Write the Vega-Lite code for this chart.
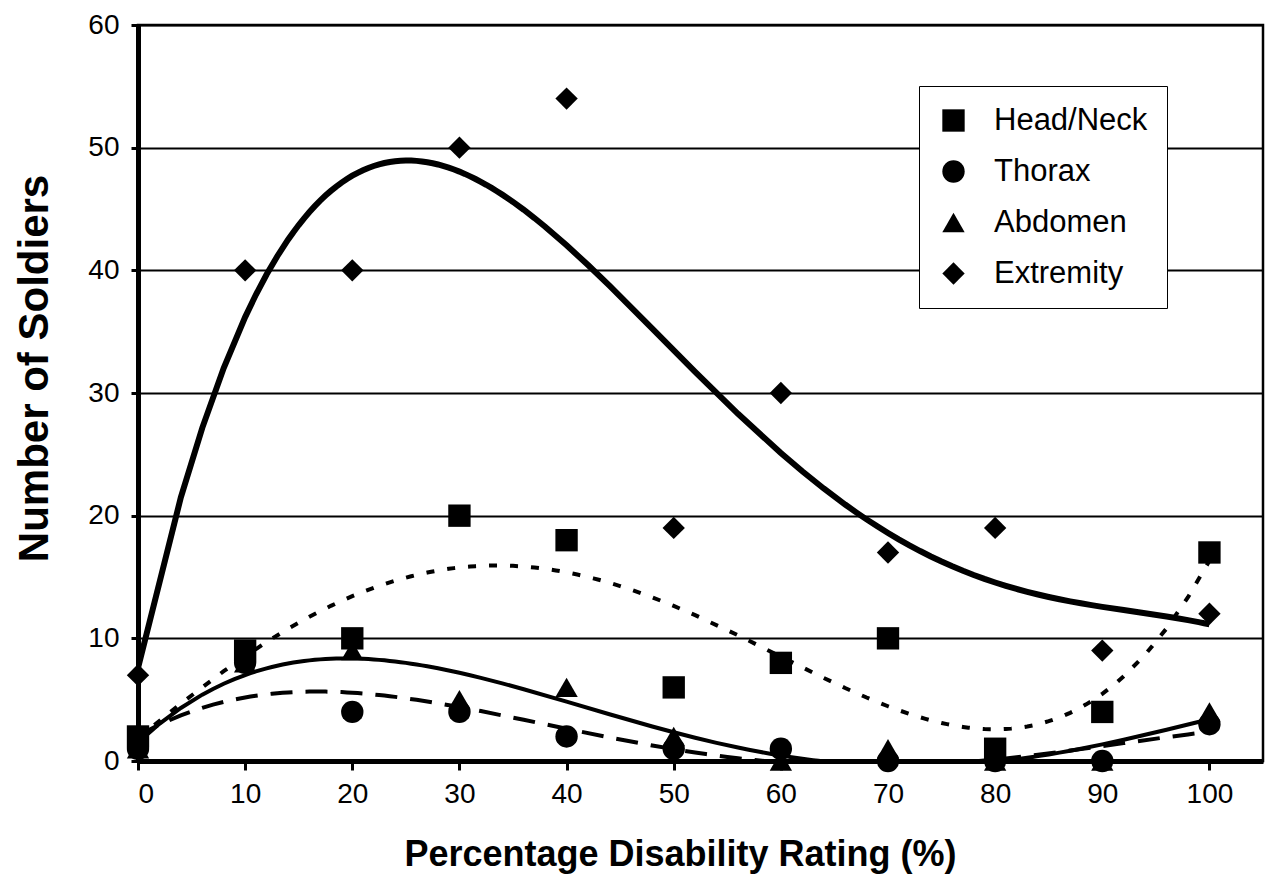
{
  "$schema": "https://vega.github.io/schema/vega-lite/v6.json",
  "width": 1125,
  "height": 736,
  "autosize": {"type": "none"},
  "padding": {"left": 138, "top": 25, "right": 9, "bottom": 113},
  "background": "white",
  "config": {
    "font": "Liberation Sans",
    "view": {"stroke": "black", "strokeWidth": 2.5},
    "axis": {
      "domainColor": "black",
      "domainWidth": 5,
      "tickColor": "black",
      "tickWidth": 3,
      "labelColor": "black",
      "titleColor": "black",
      "labelFont": "Liberation Sans",
      "titleFont": "Liberation Sans",
      "labelFontSize": 28,
      "titleFontSize": 36,
      "titleFontWeight": "bold"
    }
  },
  "data": {
    "values": [
      {"x": 0, "y": 2, "series": "Head/Neck"},
      {"x": 10, "y": 9, "series": "Head/Neck"},
      {"x": 20, "y": 10, "series": "Head/Neck"},
      {"x": 30, "y": 20, "series": "Head/Neck"},
      {"x": 40, "y": 18, "series": "Head/Neck"},
      {"x": 50, "y": 6, "series": "Head/Neck"},
      {"x": 60, "y": 8, "series": "Head/Neck"},
      {"x": 70, "y": 10, "series": "Head/Neck"},
      {"x": 80, "y": 1, "series": "Head/Neck"},
      {"x": 90, "y": 4, "series": "Head/Neck"},
      {"x": 100, "y": 17, "series": "Head/Neck"},
      {"x": 0, "y": 1, "series": "Thorax"},
      {"x": 10, "y": 8, "series": "Thorax"},
      {"x": 20, "y": 4, "series": "Thorax"},
      {"x": 30, "y": 4, "series": "Thorax"},
      {"x": 40, "y": 2, "series": "Thorax"},
      {"x": 50, "y": 1, "series": "Thorax"},
      {"x": 60, "y": 1, "series": "Thorax"},
      {"x": 70, "y": 0, "series": "Thorax"},
      {"x": 80, "y": 0, "series": "Thorax"},
      {"x": 90, "y": 0, "series": "Thorax"},
      {"x": 100, "y": 3, "series": "Thorax"},
      {"x": 0, "y": 1, "series": "Abdomen"},
      {"x": 10, "y": 8, "series": "Abdomen"},
      {"x": 20, "y": 9, "series": "Abdomen"},
      {"x": 30, "y": 5, "series": "Abdomen"},
      {"x": 40, "y": 6, "series": "Abdomen"},
      {"x": 50, "y": 2, "series": "Abdomen"},
      {"x": 60, "y": 0, "series": "Abdomen"},
      {"x": 70, "y": 1, "series": "Abdomen"},
      {"x": 80, "y": 0, "series": "Abdomen"},
      {"x": 90, "y": 0, "series": "Abdomen"},
      {"x": 100, "y": 4, "series": "Abdomen"},
      {"x": 0, "y": 7, "series": "Extremity"},
      {"x": 10, "y": 40, "series": "Extremity"},
      {"x": 20, "y": 40, "series": "Extremity"},
      {"x": 30, "y": 50, "series": "Extremity"},
      {"x": 40, "y": 54, "series": "Extremity"},
      {"x": 50, "y": 19, "series": "Extremity"},
      {"x": 60, "y": 30, "series": "Extremity"},
      {"x": 70, "y": 17, "series": "Extremity"},
      {"x": 80, "y": 19, "series": "Extremity"},
      {"x": 90, "y": 9, "series": "Extremity"},
      {"x": 100, "y": 12, "series": "Extremity"}
    ]
  },
  "encoding": {
    "x": {
      "field": "x",
      "type": "quantitative",
      "scale": {"domain": [0, 105], "nice": false, "zero": false},
      "axis": {
        "title": "Percentage Disability Rating (%)",
        "values": [0, 10, 20, 30, 40, 50, 60, 70, 80, 90, 100],
        "grid": false,
        "tickSize": 9,
        "labelPadding": 10,
        "titleX": 542,
        "titleY": 104,
        "titleBaseline": "alphabetic"
      }
    },
    "y": {
      "field": "y",
      "type": "quantitative",
      "scale": {"domain": [0, 60], "nice": false},
      "axis": {
        "title": "Number of Soldiers",
        "titleFontSize": 42,
        "titleAlign": "center",
        "values": [0, 10, 20, 30, 40, 50, 60],
        "grid": true,
        "gridColor": "black",
        "gridWidth": 2,
        "gridOpacity": 1,
        "tickSize": 7,
        "labelPadding": 12,
        "titleX": -82,
        "titleY": 343
      }
    }
  },
  "layer": [
    {
      "transform": [
        {"filter": "datum.series === 'Extremity'"},
        {"regression": "y", "on": "x", "method": "poly", "order": 4, "extent": [0, 100]}
      ],
      "mark": {"type": "line", "color": "black", "strokeWidth": 6, "clip": true},
      "encoding": {}
    },
    {
      "transform": [
        {"filter": "datum.series === 'Head/Neck'"},
        {"regression": "y", "on": "x", "method": "poly", "order": 4, "extent": [0, 100]}
      ],
      "mark": {"type": "line", "color": "black", "strokeWidth": 4, "strokeDash": [8, 13], "clip": true},
      "encoding": {}
    },
    {
      "transform": [
        {"filter": "datum.series === 'Abdomen'"},
        {"regression": "y", "on": "x", "method": "poly", "order": 4, "extent": [0, 100]}
      ],
      "mark": {"type": "line", "color": "black", "strokeWidth": 4, "clip": true},
      "encoding": {}
    },
    {
      "transform": [
        {"filter": "datum.series === 'Thorax'"},
        {"regression": "y", "on": "x", "method": "poly", "order": 4, "extent": [0, 100]}
      ],
      "mark": {"type": "line", "color": "black", "strokeWidth": 4, "strokeDash": [22, 13], "clip": true},
      "encoding": {}
    },
    {
      "mark": {"type": "point", "filled": true, "color": "black", "opacity": 1, "size": 500},
      "encoding": {
        "shape": {
          "field": "series",
          "type": "nominal",
          "scale": {
            "domain": ["Head/Neck", "Thorax", "Abdomen", "Extremity"],
            "range": ["square", "circle", "triangle-up", "diamond"]
          },
          "legend": {
            "title": null,
            "orient": "none",
            "legendX": 781,
            "legendY": 61,
            "strokeColor": "black",
            "fillColor": "white",
            "padding": 19,
            "symbolSize": 500,
            "symbolFillColor": "black",
            "symbolStrokeColor": "black",
            "symbolOpacity": 1,
            "labelFontSize": 31,
            "labelFont": "Liberation Sans",
            "labelColor": "black",
            "labelOffset": 25,
            "rowPadding": 19
          }
        }
      }
    }
  ]
}
